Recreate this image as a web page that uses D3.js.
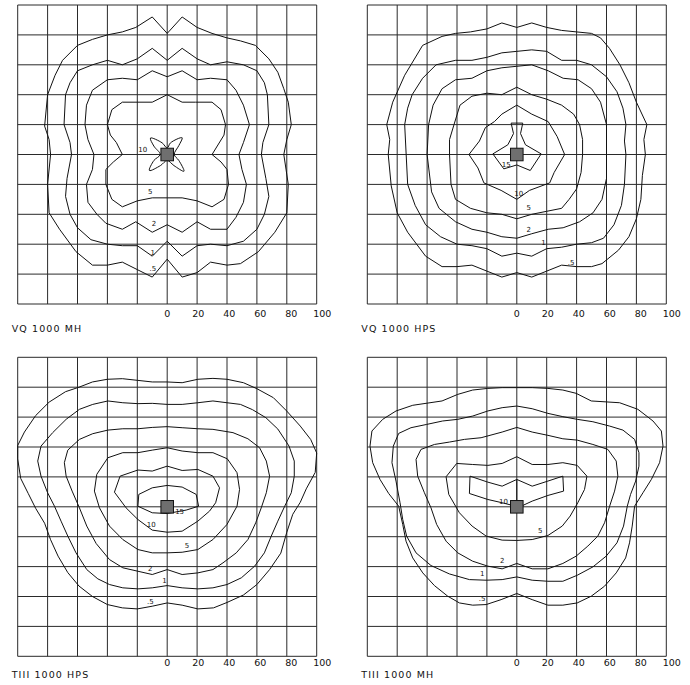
<!DOCTYPE html>
<html>
<head>
<meta charset="utf-8">
<script src="https://cdn.jsdelivr.net/npm/d3@7"></script>
<style>
  body { margin: 0; background: #fff; }
  svg { display: block; }
  .grid line { stroke: #2a2a2a; stroke-width: 1; }
  .contour { fill: none; stroke: #111; stroke-width: 1; }
  text { font-family: "DejaVu Sans", sans-serif; fill: #111; }
</style>
</head>
<body>
<svg id="chart"></svg>
<script>
// grid and axis values (same for all four plots)
const gridValues = [-100, -80, -60, -40, -20, 0, 20, 40, 60, 80, 100];
const tickLabels = [0, 20, 40, 60, 80, 100];

// ---- VQ 1000 MH ----
const vqMhHalf = [[0,81],[10,92],[20,85],[30,81],[40,78],[49,76],[59,73],[68,64],[74,55],[78,44],[81,35],[83,20],[80,10],[78,0],[81,-20],[80,-39],[72,-52],[61,-65],[49,-73],[40,-74],[29,-72],[20,-79],[10,-82],[0,-70],[-10,-82],[-20,-77],[-30,-72],[-40,-74],[-50,-74],[-61,-65],[-72,-50],[-79,-39],[-80,-20],[-78,0],[-79,10],[-82,19],[-80,40],[-75,53],[-70,63],[-60,73],[-50,77],[-40,80],[-30,82],[-21,85],[-10,92]];
const vqMh1 = [[0,63],[10,71],[20,64],[29,60],[40,62],[51,60],[60,56],[65,48],[67,40],[68,20],[64,8],[63,0],[66,-16],[68,-28],[65,-40],[60,-50],[51,-58],[40,-61],[29,-60],[20,-61],[10,-68],[0,-58],[-10,-68],[-20,-61],[-30,-61],[-40,-60],[-51,-57],[-60,-49],[-65,-40],[-68,-28],[-67,-16],[-64,0],[-65,8],[-69,20],[-68,40],[-65,48],[-60,56],[-50,60],[-40,63],[-30,60],[-20,64],[-10,71]];
const vqMh2 = [[0,52],[10,56],[20,50],[29,51],[40,50],[46,43],[51,33],[55,20],[51,8],[48,0],[50,-10],[53,-20],[51,-32],[46,-42],[40,-50],[29,-50],[20,-45],[10,-52],[0,-47],[-10,-52],[-21,-45],[-30,-50],[-41,-46],[-47,-40],[-53,-32],[-54,-20],[-50,-10],[-49,0],[-53,10],[-55,20],[-54,33],[-50,43],[-40,50],[-30,51],[-20,50],[-10,56]];
const vqMh5 = [[0,40],[10,35],[19,35],[30,35],[36,30],[39,20],[38,13],[30,0],[36,-5],[40,-10],[41,-20],[38,-30],[30,-35],[20,-31],[10,-29],[0,-29],[-10,-29],[-20,-31],[-30,-35],[-37,-30],[-41,-20],[-41,-10],[-36,-5],[-30,0],[-34,8],[-38,13],[-40,20],[-37,30],[-30,35],[-20,35],[-10,35]];
const vqMh10 = [[0,4.3],[2.2,7.8],[10,11.2],[7.8,6],[4.7,0],[7.8,-4],[11.2,-11.2],[4.5,-7.4],[0,-4],[-4.5,-7.4],[-11.9,-10.7],[-8.9,-4],[-4.7,0],[-8.9,5.6],[-11.2,11],[-3.4,7.8]];
const vqMhLabels = [["10",-16.3,3.3],["5",-11.4,-24.6],["2",-8.9,-46.4],["1",-9.6,-65.4],[".5",-9.6,-76.1]];

// ---- VQ 1000 HPS ----
const vqHpsHalf = [[0,85],[10,88],[20,85],[30,83],[40,82],[50,81],[56,78],[62,71],[69,60],[75,48],[80,35],[87,20],[85,10],[86,0],[84,-14],[83,-30],[80,-43],[75,-55],[68,-64],[57,-73],[50,-75],[40,-75],[30,-74],[20,-78],[10,-82],[0,-79],[-10,-82],[-20,-78],[-30,-74],[-40,-75],[-50,-75],[-61,-68],[-73,-52],[-80,-39],[-84,-21],[-86,0],[-85,10],[-87,20],[-83,35],[-75,53],[-63,73],[-50,79],[-41,81],[-31,82],[-20,84],[-10,88]];
const vqHps1 = [[0,69],[10,70],[20,69],[30,63],[40,63],[50,60],[60,52],[67,42],[71,31],[73,20],[72,9],[73,0],[72,-20],[70,-34],[65,-47],[58,-56],[50,-59],[40,-60],[30,-62],[20,-63],[10,-68],[0,-66],[-10,-68],[-20,-63],[-30,-61],[-40,-60],[-51,-55],[-61,-47],[-68,-34],[-73,-20],[-74,0],[-75,20],[-73,31],[-70,40],[-63,51],[-54,60],[-41,63],[-30,63],[-20,65],[-10,68]];
const vqHps2 = [[0,59],[10,60],[21,56],[31,51],[41,50],[50,44],[56,35],[60,20],[60,0],[60,-16],[57,-30],[51,-39],[42,-45],[31,-49],[21,-50],[10,-53],[0,-56],[-10,-55],[-20,-52],[-30,-50],[-41,-45],[-52,-36],[-57,-25],[-60,0],[-59,20],[-56,33],[-50,44],[-41,50],[-30,51],[-20,56],[-10,58]];
const vqHps5 = [[0,45],[10,40],[20,37],[30,33],[38,27],[42,20],[44,10],[44,0],[43,-12],[40,-23],[35,-30],[30,-36],[20,-38],[10,-40],[0,-43],[-10,-40],[-20,-39],[-31,-36],[-41,-30],[-44,-20],[-45,0],[-45,10],[-42,20],[-38,33],[-30,39],[-20,41],[-10,40]];
const vqHps10 = [[0,33],[10,27],[21,22],[27,12],[32,0],[25,-12],[22,-19],[8.5,-24],[0,-30],[-10.5,-24],[-22,-19],[-26,-9],[-32,0],[-25,9],[-21,18],[-15,22],[-10,27]];
const vqHps15 = [[-16,0.4],[-6,6.5],[-2.2,14],[-3.8,21],[4,21],[2.5,14],[5.8,6.5],[16.3,0.4],[9,-10.7],[0,-7],[-8.7,-9.6]];
const vqHpsLabels = [["15",-7.1,-6.9],["10",1.3,-25.9],["5",8,-35.3],["2",8,-50.2],["1",17.9,-58.7],[".5",36.4,-72.1]];

// ---- TIII 1000 HPS ----
const tHpsHalf = [[0,83.5],[10,83],[20.5,85.3],[30.6,85.9],[40,85.3],[51,83],[60,79],[71,73],[80,64],[89,54],[96,45],[100,36],[99,23],[93,12],[89,3],[84,-5],[80,-17],[76,-31],[68.5,-42],[60,-52],[51,-59],[40,-64],[31,-67.6],[20.5,-68.3],[10,-65.8],[0,-64.3],[-10,-66.5],[-20,-68.3],[-30,-67.6],[-40,-65.4],[-50,-60],[-59,-53],[-66.5,-44],[-73,-33],[-78,-22],[-82,-11],[-88,-1],[-93,9],[-98,19],[-100,32],[-100,41],[-95.5,50],[-88,61],[-79,70],[-68,77],[-59,80],[-50,83.5],[-40,85.3],[-30,85.7],[-20,84.6],[-10,83.5]];
const tHps1 = [[0,68.5],[10,68.5],[20.5,69.6],[30.6,70.8],[40,69.6],[49,68.5],[57,65],[66,59.6],[74,52],[81.5,40.6],[85,30.6],[85,20.5],[83,9.4],[78.6,0.4],[74,-9.6],[69.6,-19.6],[65,-30.8],[58.5,-39.7],[49.6,-47.5],[40,-52],[30.6,-54.2],[20.5,-54.9],[10,-54.2],[0,-52.7],[-10,-54.2],[-19.6,-54.9],[-29.7,-54.2],[-38.6,-52],[-46.4,-48.2],[-53.8,-42],[-61,-30.8],[-66.5,-19.6],[-71,-9.6],[-75.4,0.4],[-80,9.4],[-84.4,20.5],[-86.6,30.6],[-84.4,40.6],[-76.6,49.6],[-67.6,58.5],[-58.7,65.2],[-49.8,68.5],[-39.7,70.8],[-29.7,69.6],[-19.6,69],[-10,69.2]];
const tHps2 = [[0,53.6],[10,52.9],[20.5,52.2],[30.6,51.8],[44,49.6],[54,45.5],[61.8,39.5],[66.3,30.6],[68.5,20.5],[66.3,9.4],[62.9,-0.7],[59.2,-10.7],[54,-21.9],[46.2,-30.8],[37.3,-37.5],[30.6,-42],[20.5,-44.2],[10,-45.3],[0,-42],[-10,-45.3],[-19.6,-43.1],[-29.7,-40.8],[-38.6,-35.3],[-47.5,-24.6],[-53.8,-12.9],[-58.7,-0.7],[-63.6,10.5],[-67.6,20.5],[-68.8,29.5],[-66.5,37.9],[-58.7,45.1],[-49.8,48.9],[-39.7,51.3],[-29.7,52.2],[-19.6,52.2],[-10,53.1]];
const tHps5 = [[0,39.5],[10,37.3],[20.5,36.2],[30.6,36.2],[40.2,32.1],[46.7,22.8],[48.4,11.6],[46.7,0.4],[40,-11.8],[30.6,-21.9],[20.5,-28.6],[10,-30.4],[0,-30.8],[-10,-30.8],[-19.6,-28.6],[-29.7,-21.9],[-38.6,-12.9],[-45.3,-0.7],[-48.7,10.5],[-47.1,21.7],[-39.7,32.8],[-29.7,36.2],[-19.6,36.2],[-10,37.9]];
const tHps10 = [[0,27.2],[10,24.3],[20.5,25],[30.6,20.5],[35,12.7],[32.4,2.7],[28.3,-2.9],[20.5,-9.6],[10,-16.3],[0,-17],[-10,-15.6],[-19.6,-8.5],[-27.5,-0.7],[-35.3,9.8],[-31.5,20.5],[-19.6,24.6],[-10,23.9]];
const tHps15 = [[0,14.3],[10,13.2],[19.4,8.3],[21,0.4],[12.7,-2.2],[0,-4.5],[-10,-4],[-19.6,0.4],[-19,8.3],[-10,12.7]];
const tHpsLabels = [["15",8.3,-2.9],["10",-10.7,-11.8],["5",13.2,-25.9],["2",-11.4,-41.5],["1",-1.8,-49.1],[".5",-11.2,-63.2]];

// ---- TIII 1000 MH ----
const tMhHalf = [[0,79.7],[10.3,79.7],[20.8,79.2],[30.8,78.1],[39.7,75.9],[49.8,70.8],[68.8,69.6],[81,65.2],[91.1,57.4],[96.7,50.7],[97.8,40.6],[95.5,29.5],[90,18.3],[84.4,9.4],[78.8,0.4],[77.2,-12.9],[75.4,-24.1],[72.8,-34.2],[66.5,-44.2],[58.7,-53.1],[49.8,-59.8],[40.4,-64.3],[30.8,-65.8],[20.8,-65.8],[10.3,-62.1],[0,-58],[-10.5,-62.1],[-20.5,-65.4],[-29.5,-65.8],[-38.4,-64.3],[-46.2,-59.8],[-55.1,-52.7],[-62.9,-44.2],[-69.6,-34.2],[-74.1,-23],[-76.3,-11.8],[-79,0.4],[-85.7,8.9],[-91.5,18.3],[-96.4,29.5],[-98.2,40.6],[-96.9,50.7],[-89.7,58.5],[-80.8,64.1],[-69.6,67.9],[-50,70.8],[-39.5,75.2],[-29.5,78.1],[-19.4,79.2],[-9.8,79.7]];
const tMh1 = [[0,67.4],[10.3,65.6],[20.8,62.5],[30.8,60.3],[40.4,58.5],[50.9,56.9],[62.1,54],[71,51.3],[78.8,45.1],[81.7,36.2],[81.7,27.2],[79.5,17.2],[76.1,8.3],[73.9,0.4],[71.4,-12.9],[67,-24.1],[59.8,-33],[50.9,-40.2],[40.4,-45.8],[30.8,-49.8],[20.8,-49.8],[10.3,-49.1],[0,-46.9],[-9.8,-48.7],[-20.5,-49.1],[-31.7,-48.7],[-45.1,-44.9],[-57.4,-39.3],[-67.4,-30.8],[-73.7,-19.6],[-76.3,-8.5],[-78.1,2.7],[-80.8,17.2],[-83.5,29.5],[-82.6,40.6],[-79,49.1],[-70.8,52.9],[-60.3,55.1],[-49.6,57.4],[-39.5,58.5],[-29.5,60.7],[-19.4,64.1],[-9.8,66.3]];
const tMh2 = [[0,53.1],[10.3,50],[20.8,47.8],[30.8,45.5],[40.4,44.6],[50.9,41.7],[60.9,38.4],[66.5,30.6],[67.6,20.5],[65.4,10.5],[62.1,0.4],[58.7,-10.7],[54.2,-19.6],[47.5,-26.3],[39.7,-33],[30.8,-37.9],[20.8,-41.5],[10.3,-41.5],[0,-37.9],[-9.8,-41.5],[-19.4,-39.7],[-29.5,-36.4],[-39.5,-30.8],[-47.3,-23],[-53.6,-11.8],[-57.4,-0.7],[-61.8,9.4],[-66.3,20.5],[-67.4,31.7],[-64.1,38.4],[-55.1,41.7],[-45.1,43.3],[-35,45.1],[-23.9,46.2],[-9.8,50]];
const tMh5 = [[0,33.5],[10.3,28.3],[20.8,28.3],[30.8,29.5],[40.4,27.7],[46.9,20.5],[45.3,11.6],[40.8,2.7],[35.7,-6.2],[30.4,-12.9],[20.8,-19.2],[10.3,-21.9],[0,-22.5],[-9.8,-22.3],[-20.5,-19.6],[-29.9,-12.9],[-38.4,-4],[-45.5,8.3],[-47.3,20.1],[-40.2,29],[-29.5,28.3],[-19.4,27.7],[-9.8,29]];
const tMh10 = [[-2.7,0.9],[-9.8,2.7],[-19.4,4.9],[-31.7,8.9],[-31.3,20.5],[-19.4,16.5],[-9.8,13.8],[0,18.3],[10.3,13.8],[20.8,17.2],[30.8,20.5],[31.3,10.5],[20.8,7.6],[10.3,3.8],[4,0.9]];
const tMh10Stub = [[0,18.3],[0,4]];
const tMhLabels = [["10",-8.9,3.8],["5",15.6,-15.8],["2",-9.8,-35.7],["1",-23.2,-44.9],[".5",-23.2,-61.6]];

const size = 299;
const markerHalf = 4.2; // source marker, in axis units

const panels = [
  { title: 'VQ 1000 MH', left: 17.7, top: 5, tickDy: 12.7, titleDy: 27.7,
    rings: [vqMhHalf, vqMh1, vqMh2, vqMh5], smooth: [vqMh10], open: [], labels: vqMhLabels },
  { title: 'VQ 1000 HPS', left: 367.3, top: 5, tickDy: 12.7, titleDy: 27.7,
    rings: [vqHpsHalf, vqHps1, vqHps2, vqHps5, vqHps10, vqHps15], smooth: [], open: [], labels: vqHpsLabels },
  { title: 'TIII 1000 HPS', left: 17.7, top: 357.3, tickDy: 9.7, titleDy: 21.5,
    rings: [tHpsHalf, tHps1, tHps2, tHps5, tHps10, tHps15], smooth: [], open: [], labels: tHpsLabels },
  { title: 'TIII 1000 MH', left: 367.3, top: 357.3, tickDy: 9.7, titleDy: 21.5,
    rings: [tMhHalf, tMh1, tMh2, tMh5, tMh10], smooth: [], open: [tMh10Stub], labels: tMhLabels }
];

const svg = d3.select('#chart').attr('width', 690).attr('height', 685);

panels.forEach(p => {
  let x = d3.scaleLinear().domain([-100, 100]).range([p.left, p.left + size]),
    y = d3.scaleLinear().domain([-100, 100]).range([p.top + size, p.top]),
    // printed tick numbers run on a slightly wider pitch than the grid
    xLab = d3.scaleLinear().domain([0, 100]).range([x(0), x(0) + 155]);

  let g = svg.append('g');

  let grid = g.append('g').attr('class', 'grid');
  grid.selectAll('.v').data(gridValues).enter().append('line')
    .attr('x1', d => x(d)).attr('x2', d => x(d))
    .attr('y1', y(-100)).attr('y2', y(100));
  grid.selectAll('.h').data(gridValues).enter().append('line')
    .attr('y1', d => y(d)).attr('y2', d => y(d))
    .attr('x1', x(-100)).attr('x2', x(100));

  let ring = d3.line().x(d => x(d[0])).y(d => y(d[1])).curve(d3.curveLinearClosed);
  let soft = d3.line().x(d => x(d[0])).y(d => y(d[1])).curve(d3.curveCatmullRomClosed.alpha(0.5));
  let open = d3.line().x(d => x(d[0])).y(d => y(d[1]));

  g.selectAll('.ring').data(p.rings).enter().append('path')
    .attr('class', 'contour').attr('d', ring);
  g.selectAll('.soft').data(p.smooth).enter().append('path')
    .attr('class', 'contour').attr('d', soft);
  g.selectAll('.stub').data(p.open).enter().append('path')
    .attr('class', 'contour').attr('d', open);

  g.append('rect')
    .attr('x', x(-markerHalf)).attr('y', y(markerHalf))
    .attr('width', x(markerHalf) - x(-markerHalf))
    .attr('height', y(-markerHalf) - y(markerHalf))
    .attr('fill', '#6f6f6f').attr('stroke', '#111').attr('stroke-width', 1);

  g.selectAll('.lbl').data(p.labels).enter().append('text')
    .attr('x', d => x(d[1])).attr('y', d => y(d[2]))
    .attr('dy', '0.35em')
    .attr('text-anchor', 'middle')
    .style('font-size', '7px')
    .text(d => d[0]);

  g.selectAll('.tick').data(tickLabels).enter().append('text')
    .attr('x', d => xLab(d))
    .attr('y', p.top + size + p.tickDy)
    .attr('text-anchor', 'middle')
    .style('font-size', '9.5px')
    .text(d => d);

  g.append('text')
    .attr('x', p.left - 6)
    .attr('y', p.top + size + p.titleDy)
    .style('font-size', '9.5px')
    .style('letter-spacing', '1.1px')
    .text(p.title);
});
</script>
</body>
</html>
